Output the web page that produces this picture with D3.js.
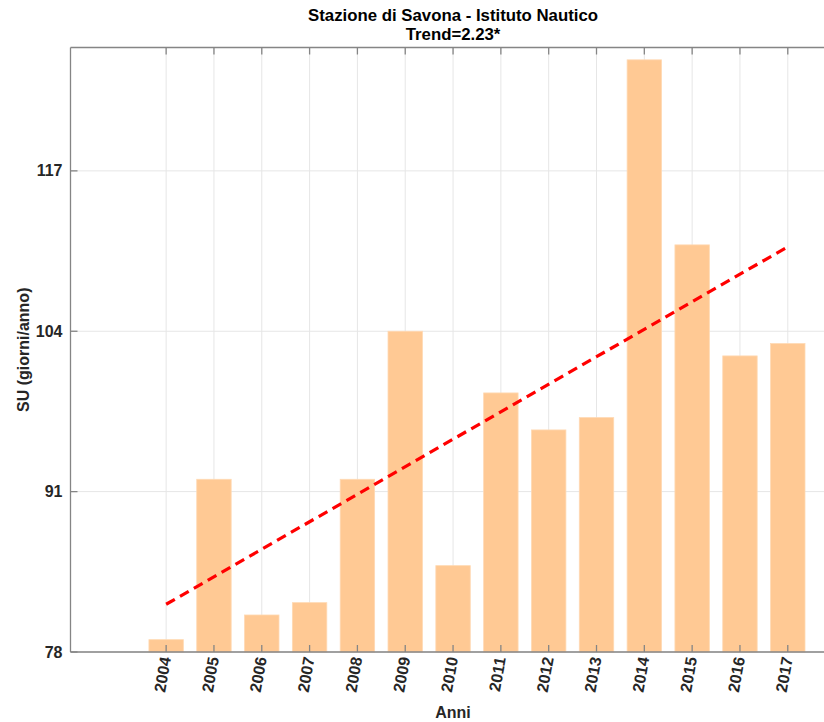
<!DOCTYPE html>
<html><head><meta charset="utf-8">
<script src="https://cdn.jsdelivr.net/npm/d3@7/dist/d3.min.js"></script>
<style>body{margin:0;background:#fff}svg{display:block}</style>
</head><body><div id="chart"></div>
<script>
const years = [2004,2005,2006,2007,2008,2009,2010,2011,2012,2013,2014,2015,2016,2017];
const values = [79,92,81,82,92,104,85,99,96,97,126,111,102,103];
const yTicks = [78,91,104,117];
const trendYears = [2004,2017];
const trendValues = [81.87,110.85];
const title1 = "Stazione di Savona - Istituto Nautico";
const title2 = "Trend=2.23*";

const W=824,H=722;
const m={left:70.5,top:47.5,right:835.6,bottom:652};
const svg=d3.select("#chart").append("svg").attr("width",W).attr("height",H);
const x=d3.scaleLinear().domain([2002,2018]).range([m.left,m.right]);
const y=d3.scaleLinear().domain([78,127]).range([m.bottom,m.top]);
const font="'Liberation Sans',Arial,sans-serif";
const bw=(x(1)-x(0))*0.72;

// grid
svg.append("g").selectAll("line").data(years).join("line")
  .attr("x1",d=>x(d)).attr("x2",d=>x(d)).attr("y1",m.top).attr("y2",m.bottom)
  .attr("stroke","#e6e6e6").attr("stroke-width",1);
svg.append("g").selectAll("line").data(yTicks).join("line")
  .attr("x1",m.left).attr("x2",m.right).attr("y1",d=>y(d)).attr("y2",d=>y(d))
  .attr("stroke","#e6e6e6").attr("stroke-width",1);

// bars
svg.append("g").selectAll("rect").data(years).join("rect")
  .attr("x",(d)=>x(d)-bw/2).attr("width",bw)
  .attr("y",(d,i)=>y(values[i])).attr("height",(d,i)=>y(78)-y(values[i]))
  .attr("fill","#ffc994").attr("stroke","#ffd9b3").attr("stroke-width",0.8);

// trend
svg.append("line")
  .attr("x1",x(trendYears[0])).attr("y1",y(trendValues[0]))
  .attr("x2",x(trendYears[1])).attr("y2",y(trendValues[1]))
  .attr("stroke","#ff0000").attr("stroke-width",3.2).attr("stroke-dasharray","10,6");

// axes lines
const ax="#858585";
svg.append("line").attr("x1",m.left).attr("x2",m.right).attr("y1",m.top).attr("y2",m.top).attr("stroke",ax).attr("stroke-width",1.3);
svg.append("line").attr("x1",m.left).attr("x2",m.right).attr("y1",m.bottom).attr("y2",m.bottom).attr("stroke",ax).attr("stroke-width",1.3);
svg.append("line").attr("x1",m.left).attr("x2",m.left).attr("y1",m.top).attr("y2",m.bottom).attr("stroke",ax).attr("stroke-width",1.3);

// ticks
const tk=svg.append("g");
years.forEach(d=>{
  tk.append("line").attr("x1",x(d)).attr("x2",x(d)).attr("y1",m.top).attr("y2",m.top+7).attr("stroke",ax).attr("stroke-width",1.3);
  tk.append("line").attr("x1",x(d)).attr("x2",x(d)).attr("y1",m.bottom).attr("y2",m.bottom-7).attr("stroke",ax).attr("stroke-width",1.3);
});
yTicks.forEach(d=>{
  tk.append("line").attr("x1",m.left).attr("x2",m.left+7).attr("y1",y(d)).attr("y2",y(d)).attr("stroke",ax).attr("stroke-width",1.3);
});

// y tick labels
svg.append("g").selectAll("text").data(yTicks).join("text")
  .attr("x",m.left-8).attr("y",d=>y(d)).attr("dy","0.35em")
  .attr("text-anchor","end").attr("font-family",font).attr("font-weight","bold")
  .attr("font-size",16).attr("fill","#262626").text(d=>d);

// x tick labels
svg.append("g").selectAll("text").data(years).join("text")
  .attr("transform",d=>`translate(${x(d)+5},${m.bottom+6}) rotate(-80)`)
  .attr("text-anchor","end").attr("font-family",font).attr("font-weight","bold")
  .attr("font-size",16).attr("fill","#262626").text(d=>d);

// titles
svg.append("text").attr("x",(m.left+m.right)/2).attr("y",21).attr("text-anchor","middle")
  .attr("font-family",font).attr("font-weight","bold").attr("font-size",16.8).attr("fill","#000").text(title1);
svg.append("text").attr("x",(m.left+m.right)/2).attr("y",40).attr("text-anchor","middle")
  .attr("font-family",font).attr("font-weight","bold").attr("font-size",16.8).attr("fill","#000").text(title2);

svg.append("text").attr("x",(m.left+m.right)/2).attr("y",718).attr("text-anchor","middle")
  .attr("font-family",font).attr("font-weight","bold").attr("font-size",16).attr("fill","#262626").text("Anni");
svg.append("text").attr("transform",`translate(29,${(m.top+m.bottom)/2}) rotate(-90)`).attr("text-anchor","middle")
  .attr("font-family",font).attr("font-weight","bold").attr("font-size",16).attr("fill","#262626").text("SU (giorni/anno)");
</script></body></html>
